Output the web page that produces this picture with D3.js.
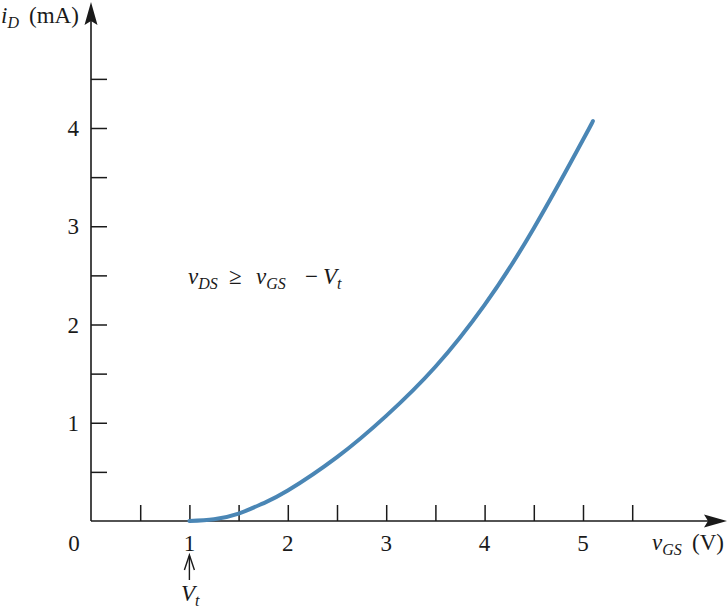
<!DOCTYPE html>
<html><head><meta charset="utf-8">
<script src="https://cdn.jsdelivr.net/npm/d3@7"></script>
<style>body{margin:0;background:#fff}svg{display:block}text{font-family:"Liberation Serif","DejaVu Serif",serif;fill:#1a1a1a}</style>
</head><body>
<svg id="c" width="728" height="611"></svg>
<script>
// Data
const vGS = [1.0, 1.25, 1.5, 1.75, 2.0, 2.5, 3.0, 3.5, 4.0, 4.5, 5.0, 5.1];
const iD  = [0.0, 0.018, 0.075, 0.18, 0.31, 0.65, 1.07, 1.57, 2.2, 2.98, 3.88, 4.07];
const xTicks = [0.5,1,1.5,2,2.5,3,3.5,4,4.5,5,5.5];
const xLabels = [1,2,3,4,5];
const yTicks = [0.5,1,1.5,2,2.5,3,3.5,4,4.5];
const yLabels = [1,2,3,4];

const svg = d3.select("#c");
const x = d3.scaleLinear().domain([0,5]).range([91,583]);
const y = d3.scaleLinear().domain([0,4]).range([521,128]);
const ink = "#1a1a1a";

// x ticks (pointing up)
svg.append("g").attr("transform",`translate(0,${y(0)})`)
  .call(d3.axisTop(x).tickValues(xTicks).tickSize(16).tickFormat(""))
  .call(g=>{g.select(".domain").remove(); g.selectAll("line").attr("stroke",ink).attr("stroke-width",1.5);});
// y ticks (pointing right)
svg.append("g").attr("transform",`translate(${x(0)},0)`)
  .call(d3.axisRight(y).tickValues(yTicks).tickSize(16).tickFormat(""))
  .call(g=>{g.select(".domain").remove(); g.selectAll("line").attr("stroke",ink).attr("stroke-width",1.5);});

// axis lines with arrows
svg.append("line").attr("x1",x(0)).attr("y1",y(0)).attr("x2",708).attr("y2",y(0)).attr("stroke",ink).attr("stroke-width",1.6);
svg.append("line").attr("x1",x(0)).attr("y1",y(0)).attr("x2",x(0)).attr("y2",20).attr("stroke",ink).attr("stroke-width",1.6);
svg.append("path").attr("d",`M727,${y(0)} L704,${y(0)-6.5} L708,${y(0)} L704,${y(0)+6.5} Z`).attr("fill",ink);
svg.append("path").attr("d",`M${x(0)},2 L${x(0)-6.5},25 L${x(0)},21 L${x(0)+6.5},25 Z`).attr("fill",ink);

// tick labels
svg.selectAll(".xl").data(xLabels).enter().append("text")
  .attr("x",d=>x(d)).attr("y",551).attr("text-anchor","middle").attr("font-size",23).text(d=>d);
svg.append("text").attr("x",74).attr("y",551).attr("text-anchor","middle").attr("font-size",23).text("0");
svg.selectAll(".yl").data(yLabels).enter().append("text")
  .attr("x",79).attr("y",d=>y(d)+8).attr("text-anchor","end").attr("font-size",23).text(d=>d);

// axis titles
const yt = svg.append("text").attr("x",1).attr("y",23).attr("font-size",23);
yt.append("tspan").attr("font-style","italic").text("i");
yt.append("tspan").attr("font-style","italic").attr("font-size",16).attr("dy",5).text("D");
yt.append("tspan").attr("dy",-5).attr("x",29).text("(mA)");

const xt = svg.append("text").attr("x",652).attr("y",550).attr("font-size",23);
xt.append("tspan").attr("font-style","italic").text("v");
xt.append("tspan").attr("font-style","italic").attr("font-size",16).attr("dy",5).text("GS");
xt.append("tspan").attr("dy",-5).attr("x",692).text("(V)");

// equation
const eq = svg.append("text").attr("y",284).attr("font-size",23);
eq.append("tspan").attr("x",188).attr("font-style","italic").text("v");
eq.append("tspan").attr("font-style","italic").attr("font-size",16).attr("dy",5).text("DS");
eq.append("tspan").attr("dy",-5).attr("x",229).text("≥");
eq.append("tspan").attr("x",256).attr("font-style","italic").text("v");
eq.append("tspan").attr("font-style","italic").attr("font-size",16).attr("dy",5).text("GS");
eq.append("tspan").attr("dy",-5).attr("x",305).text("−");
eq.append("tspan").attr("x",323).attr("font-style","italic").text("V");
eq.append("tspan").attr("font-style","italic").attr("font-size",16).attr("dy",5).text("t");

// V_t marker
const vx = x(1);
svg.append("line").attr("x1",vx).attr("y1",580).attr("x2",vx).attr("y2",556).attr("stroke",ink).attr("stroke-width",1.4);
svg.append("path").attr("d",`M${vx-5},570 L${vx},555 L${vx+5},570`).attr("fill","none").attr("stroke",ink).attr("stroke-width",1.4);
const vt = svg.append("text").attr("x",181).attr("y",601).attr("font-size",23);
vt.append("tspan").attr("font-style","italic").text("V");
vt.append("tspan").attr("font-style","italic").attr("font-size",16).attr("dy",5).text("t");

// curve
const pts = vGS.map((v,i)=>[v,iD[i]]);
svg.append("path").datum(pts)
  .attr("d",d3.line().x(d=>x(d[0])).y(d=>y(d[1])).curve(d3.curveNatural))
  .attr("fill","none").attr("stroke","#4a86b5").attr("stroke-width",4).attr("stroke-linecap","round");
</script>
</body></html>
